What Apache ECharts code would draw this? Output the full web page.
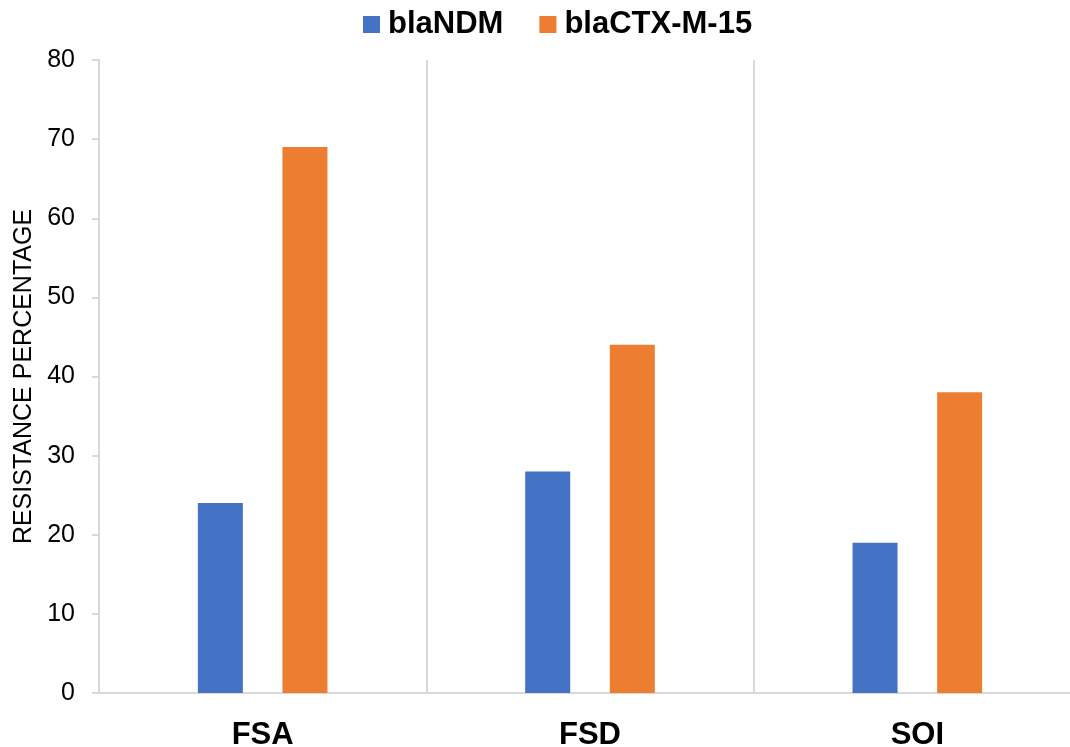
<!DOCTYPE html>
<html>
<head>
<meta charset="utf-8">
<script src="https://cdn.jsdelivr.net/npm/echarts@6/dist/echarts.min.js"></script>
<style>
  html, body { margin: 0; padding: 0; background: #fff; }
  #chart { width: 1070px; height: 747px; }
</style>
</head>
<body>
<div id="chart"></div>
<script>
// Resistance percentage per sample group for two resistance genes
const categories = ['FSA', 'FSD', 'SOI'];
const seriesNames = ['blaNDM', 'blaCTX-M-15'];
const blaNDM = [24, 28, 19];
const blaCTXM15 = [69, 44, 38];
const yTicks = [0, 10, 20, 30, 40, 50, 60, 70, 80];

const FONT = '"Liberation Sans", Arial, sans-serif';
const AXIS_GRAY = '#d9d9d9';

const chart = echarts.init(document.getElementById('chart'), null, { renderer: 'canvas' });

chart.setOption({
  backgroundColor: '#ffffff',
  animation: false,
  legend: {
    data: seriesNames,
    left: 358,
    top: 4,
    icon: 'rect',
    itemWidth: 17,
    itemHeight: 17,
    itemGap: 36,
    textStyle: {
      fontFamily: FONT,
      fontSize: 31,
      fontWeight: 'bold',
      color: '#000',
      padding: [0, 0, 0, 3]
    }
  },
  // plot area runs a little past the right edge of the canvas
  grid: {
    left: 99,
    right: -11,
    top: 60,
    bottom: 54,
    containLabel: false,
    outerBoundsMode: 'none'
  },
  xAxis: {
    type: 'category',
    data: categories,
    boundaryGap: true,
    axisLine: { show: true, lineStyle: { color: AXIS_GRAY, width: 2 } },
    axisTick: { show: false },
    splitLine: { show: true, lineStyle: { color: AXIS_GRAY, width: 2 } },
    axisLabel: {
      fontFamily: FONT,
      fontSize: 31,
      fontWeight: 'bold',
      color: '#000',
      margin: 27
    }
  },
  yAxis: {
    type: 'value',
    min: yTicks[0],
    max: yTicks[yTicks.length - 1],
    interval: yTicks[1] - yTicks[0],
    name: 'RESISTANCE PERCENTAGE',
    nameLocation: 'middle',
    nameRotate: 90,
    nameGap: 62,
    nameTextStyle: {
      fontFamily: FONT,
      fontSize: 25,
      color: '#000'
    },
    axisLine: { show: true, lineStyle: { color: AXIS_GRAY, width: 2 } },
    axisTick: { show: true, length: 7, lineStyle: { color: AXIS_GRAY, width: 2 } },
    splitLine: { show: false },
    axisLabel: {
      fontFamily: FONT,
      fontSize: 25,
      color: '#000',
      margin: 24
    }
  },
  series: [
    {
      name: seriesNames[0],
      type: 'bar',
      data: blaNDM,
      barWidth: 45,
      barGap: '88%',
      itemStyle: { color: '#4472C4' }
    },
    {
      name: seriesNames[1],
      type: 'bar',
      data: blaCTXM15,
      barWidth: 45,
      barGap: '88%',
      itemStyle: { color: '#ED7D31' }
    }
  ]
});
</script>
</body>
</html>
